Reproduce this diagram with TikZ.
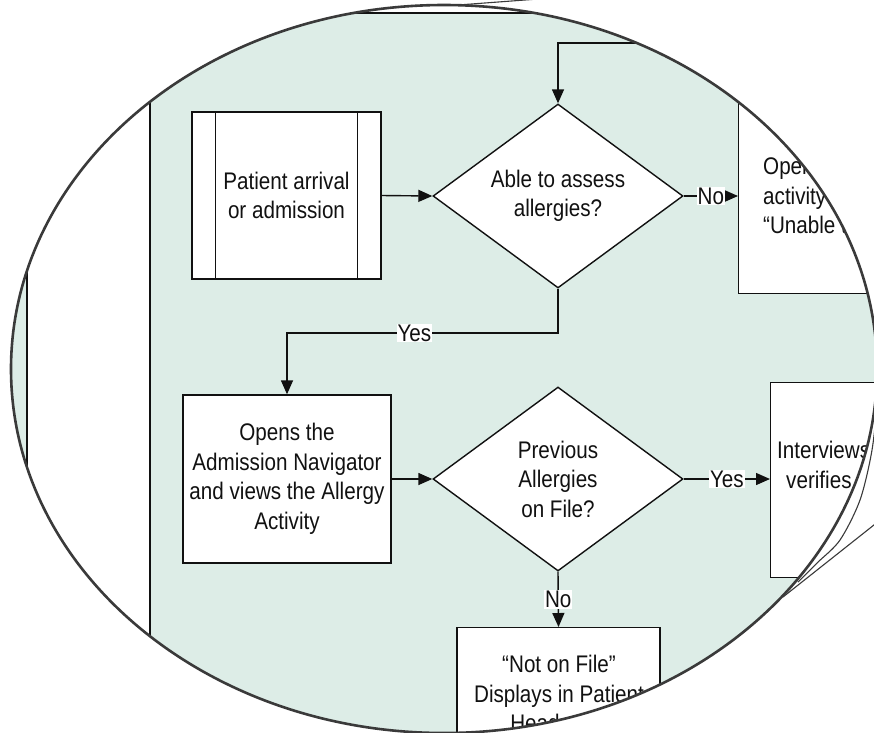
\documentclass[tikz,border=0pt]{standalone}
\usepackage{fontspec}
\setmainfont{Liberation Sans}[FakeStretch=0.86]
\usetikzlibrary{shapes.geometric,arrows.meta}
\definecolor{lanegreen}{HTML}{DDEDE7}
\definecolor{rim}{HTML}{3A3A3A}
\definecolor{ink}{HTML}{111111}
\begin{document}
\begin{tikzpicture}[x=1pt,y=-1pt,
  every node/.style={font=\fontsize{24}{29.5}\selectfont, text=ink},
  box/.style={draw=ink, line width=1.4pt, fill=white, inner sep=0pt, align=center},
  dia/.style={draw=ink, diamond, line width=1.4pt, fill=white, inner sep=0pt, align=center, aspect=1.36},
  conn/.style={draw=ink, line width=1.4pt},
  arr/.style={conn, -{Triangle[length=14pt,width=12pt]}},
  lbl/.style={fill=white, inner sep=1pt},
  txt/.style={inner sep=0pt, align=left},
  rimline/.style={draw=rim, line width=1.1pt}
]
\useasboundingbox (0,0) rectangle (874,732);
\fill[white] (0,0) rectangle (874,732);
\begin{scope}
  \clip (444,369) ellipse [x radius=433pt, y radius=364pt];
  \fill[lanegreen] (0,13) rectangle (1000,800);
  \fill[white] (27,13) rectangle (150,800);
  \draw[conn] (0,13) -- (1000,13);
  \draw[conn] (27,13) -- (27,800);
  \draw[conn] (150,13) -- (150,800);

  % nodes
  \node[box, minimum width=189pt, minimum height=167pt] (pa) at (286.5,195.5) {Patient arrival\\or admission};
  \draw[conn] ([xshift=24pt]pa.north west) -- ([xshift=24pt]pa.south west);
  \draw[conn] ([xshift=-24pt]pa.north east) -- ([xshift=-24pt]pa.south east);

  \node[dia, minimum width=250pt, minimum height=184pt] (d1) at (558,196) {Able to assess\\allergies?};

  \node[box, minimum width=200pt, minimum height=290pt, anchor=north west] (ob) at (738,3) {};
  \node[txt, anchor=west] (obt) at (763,196) {Opens\\activity\\“Unable to};

  \node[box, minimum width=208pt, minimum height=168pt] (on) at (287,479) {Opens the\\Admission Navigator\\and views the Allergy\\Activity};

  \node[dia, minimum width=250pt, minimum height=184pt] (d2) at (558,479) {Previous\\Allergies\\on File?};

  \node[box, minimum width=200pt, minimum height=195pt, anchor=north west] (iv) at (770,382) {};
  \node[txt, anchor=west] (ivt1) at (777,450) {Interviews};
  \node[txt, anchor=west] (ivt2) at (786,480) {verifies};

  \node[box, minimum width=203pt, minimum height=200pt, anchor=north] (nf) at (558.5,627) {};
  \node[inner sep=0pt, align=center, anchor=north] (nft) at (559,655) {“Not on File”\\Displays in Patient\\Header for};

  % connectors
  \coordinate (lp) at (760,43);
  \draw[arr] (lp) -| (d1.north);
  \draw[arr] (pa.east) -- (d1.west);
  \draw[arr] (d1.east) -- node[lbl] {No} (ob.west |- d1.east);
  \coordinate (yb) at (558,333);
  \draw[arr] (d1.south) -- (yb) -| node[lbl, pos=0.265] {Yes} (on.north);
  \draw[arr] (on.east) -- (d2.west);
  \draw[arr] (d2.east) -- node[lbl] {Yes} (iv.west |- d2.east);
  \draw[arr] (d2.south) -- node[lbl] {No} (nf.north);
\end{scope}

% magnifier lens outline and cone lines
\coordinate (c1a) at (458,5);
\coordinate (c1b) at (545,-1.5);
\coordinate (c2a) at (884,517);
\coordinate (c2b) at (783,597);
\draw[rimline] (c1a) -- (c1b);
\draw[rimline] (c2a) -- (c2b);
\draw[rimline] plot[smooth] coordinates {(879,340) (877,400) (872,450) (860,500) (840,540) (817,563) (798,582)};
\draw[draw=rim, line width=2.6pt] (444,369) ellipse [x radius=433pt, y radius=364pt];
\end{tikzpicture}
\end{document}
